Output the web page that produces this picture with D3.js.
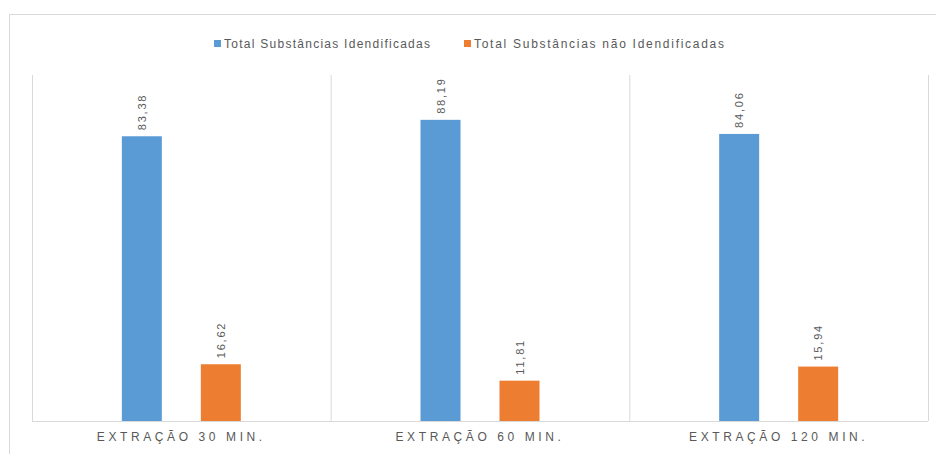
<!DOCTYPE html>
<html>
<head>
<meta charset="utf-8">
<script src="https://cdn.jsdelivr.net/npm/d3@7"></script>
<style>
  body { margin: 0; background: #fff; }
  svg { display: block; }
  text { font-family: "Liberation Sans Narrow", "Liberation Sans", sans-serif; fill: #595959; }
</style>
</head>
<body>
<svg id="chart" width="936" height="454"></svg>
<script>
// Extraction times and composition percentages
const categories = ["EXTRAÇÃO 30 MIN.", "EXTRAÇÃO 60 MIN.", "EXTRAÇÃO 120 MIN."];
const seriesNames = ["Total Substâncias Idendificadas", "Total Substâncias não Idendificadas"];
const identified = [83.38, 88.19, 84.06];
const unidentified = [16.62, 11.81, 15.94];
const colors = ["#5B9BD5", "#ED7D31"];

const fmt = v => d3.format(".2f")(v).replace(".", ",");

const svg = d3.select("#chart");
const W = 936, H = 454;

// outer frame of the chart object
svg.append("rect")
  .attr("x", 9.5).attr("y", 14.5)
  .attr("width", W + 10).attr("height", H + 10)
  .attr("fill", "#fff").attr("stroke", "#d9d9d9");

const plot = { left: 32, right: 928, top: 75, bottom: 421 };

const x0 = d3.scaleBand().domain(categories).range([plot.left, plot.right]).padding(0);
const x1 = d3.scaleBand().domain(seriesNames).range([-79, 79]).padding(0);
const y = d3.scaleLinear().domain([0, 100]).range([plot.bottom, plot.bottom - 341.5]);

// category separators (vertical gridlines)
const edges = categories.map(c => x0(c)).concat([plot.right]);
svg.append("g").selectAll("line").data(edges).join("line")
  .attr("x1", d => d + 0.5).attr("x2", d => d + 0.5)
  .attr("y1", plot.top).attr("y2", plot.bottom)
  .attr("stroke", "#d9d9d9");

// baseline
svg.append("line")
  .attr("x1", plot.left).attr("x2", plot.right)
  .attr("y1", plot.bottom + 0.5).attr("y2", plot.bottom + 0.5)
  .attr("stroke", "#d9d9d9");

const rows = categories.map((c, i) => ({ cat: c, vals: [identified[i], unidentified[i]] }));

const groups = svg.append("g").selectAll("g").data(rows).join("g")
  .attr("transform", d => `translate(${x0(d.cat) + x0.bandwidth() / 2},0)`);

const bars = groups.selectAll("g.bar").data(d => d.vals.map((v, j) => ({ name: seriesNames[j], v, j })))
  .join("g").attr("class", "bar");

const bw = 40;
const cx = d => x1(d.name) + x1.bandwidth() / 2;
bars.append("rect")
  .attr("x", d => cx(d) - bw / 2)
  .attr("width", bw)
  .attr("y", d => y(d.v))
  .attr("height", d => y(0) - y(d.v))
  .attr("fill", d => colors[d.j]);

// rotated value labels above each bar
bars.append("text")
  .attr("transform", d => `translate(${cx(d) + 4},${y(d.v) - 6}) rotate(-90)`)
  .attr("text-anchor", "start")
  .attr("font-size", 11)
  .attr("letter-spacing", 1.8)
  .text(d => fmt(d.v));

// category axis labels
svg.append("g").selectAll("text").data(categories).join("text")
  .attr("x", d => x0(d) + x0.bandwidth() / 2)
  .attr("y", 441)
  .attr("text-anchor", "middle")
  .attr("font-size", 12)
  .attr("letter-spacing", 3.6)
  .text(d => d);

// legend
const legend = svg.append("g");
const legendX = [214, 464];
const legendLen = [206, 250];
seriesNames.forEach((n, j) => {
  legend.append("rect")
    .attr("x", legendX[j]).attr("y", 40)
    .attr("width", 7).attr("height", 7)
    .attr("fill", colors[j]);
  legend.append("text")
    .attr("x", legendX[j] + 10).attr("y", 47.5)
    .attr("font-size", 12)
    .attr("textLength", legendLen[j])
    .attr("lengthAdjust", "spacing")
    .text(n);
});
</script>
</body>
</html>
